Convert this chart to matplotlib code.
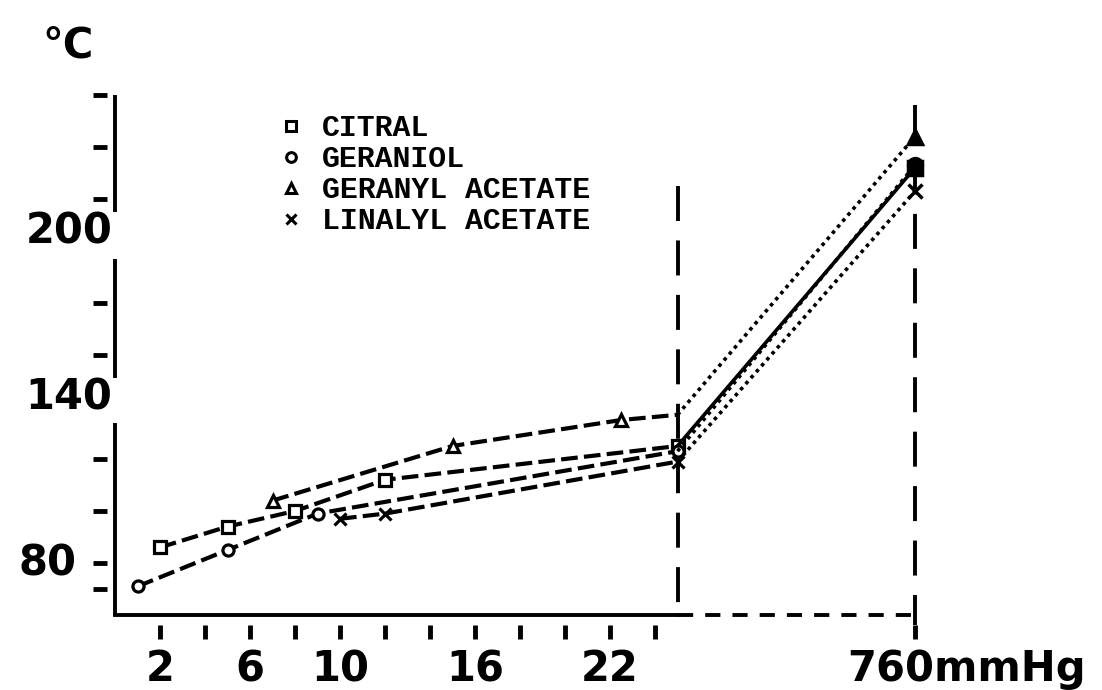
import numpy as np
import matplotlib.pyplot as plt
import matplotlib.transforms as mtransforms
from matplotlib.lines import Line2D

# Données (pression en mmHg, température d'ébullition en °C)
p_citral = [2, 5, 8, 12, 25, 760]
t_citral = [86, 94, 100, 112, 125, 232]
p_geraniol = [1, 5, 9, 25, 760]
t_geraniol = [71, 85, 99, 123, 233]
p_geranyl = [7, 15, 22.5, 25, 760]
t_geranyl = [104, 125, 135, 137, 244]
p_linalyl = [10, 12, 25, 760]
t_linalyl = [97, 99, 119, 223]

noms = ['CITRAL', 'GERANIOL', 'GERANYL ACETATE', 'LINALYL ACETATE']
marqueurs = ['s', 'o', '^', 'x']

graduations_x = np.arange(2, 25, 2)
etiquettes_x = [2, 6, 10, 16, 22]
graduations_y = [70, 80, 100, 120, 160, 180, 220, 240, 260]
etiquettes_y = [80, 140, 200]

# Axe des x coupé : échelle linéaire jusqu'à 25 mmHg, puis compressée jusqu'à 760
rupture = 25
k = (35.556 - rupture) / (760 - rupture)

def avant(x):
    x = np.asarray(x, dtype=float)
    return np.where(x <= rupture, x, rupture + (x - rupture) * k)

def arriere(y):
    y = np.asarray(y, dtype=float)
    return np.where(y <= rupture, y, rupture + (y - rupture) / k)

fig = plt.figure(figsize=(11.02, 6.9), dpi=100)
ax = fig.add_axes([115 / 1102, 75 / 690, 820 / 1102, 520 / 690])
ax.set_xscale('function', functions=(avant, arriere))
ax.set_xlim(0, float(arriere(820 / 22.5)))
ax.set_ylim(60, 260)

for s in ['top', 'right', 'left']:
    ax.spines[s].set_visible(False)
ax.spines['bottom'].set_bounds(0, rupture)
ax.spines['bottom'].set_linewidth(2.8)

x_axes_y_data = mtransforms.blended_transform_factory(ax.transAxes, ax.transData)
x_data_y_axes = mtransforms.blended_transform_factory(ax.transData, ax.transAxes)

# Axe vertical interrompu aux étiquettes 140 et 200
for bas, haut in [(60, 134), (151, 197), (215, 260)]:
    ax.plot([0, 0], [bas, haut], transform=x_axes_y_data, color='black', lw=2.8,
            clip_on=False, solid_capstyle='butt')

# Graduations détachées des axes
ax.plot(np.full(len(graduations_y), -0.018), graduations_y, ls='none', marker='_',
        ms=10, mew=3.5, color='black', transform=x_axes_y_data, clip_on=False)
ax.plot(list(graduations_x) + [760], np.full(len(graduations_x) + 1, -0.033), ls='none',
        marker='|', ms=10, mew=3.5, color='black', transform=x_data_y_axes, clip_on=False)

ax.tick_params(length=0)
ax.set_yticks([])
ax.set_xticks(etiquettes_x)
ax.set_xticklabels([str(v) for v in etiquettes_x], fontsize=30, fontweight='bold')
ax.tick_params(axis='x', pad=24)
ax.annotate('760mmHg', xy=(760, 0), xycoords=x_data_y_axes, xytext=(37, -24),
            textcoords='offset points', ha='center', va='top', fontsize=30, fontweight='bold')

decalages = {80: (-28, 0), 140: (-2, 6.5), 200: (-2, 14)}
for v in etiquettes_y:
    ax.annotate(str(v), xy=(0, v), xycoords=x_axes_y_data, xytext=decalages[v],
                textcoords='offset points', ha='right', va='center', fontsize=30, fontweight='bold')

fig.text(42 / 1102, 1 - 45 / 690, '°C', fontsize=30, fontweight='bold', va='center')

# Lignes de repère pointillées (tracées du haut vers le bas)
ax.vlines(rupture, 225, 60, color='black', lw=2.8, linestyles=[(0, (9, 5))])
ax.vlines(760, 256, 56, color='black', lw=2.8, linestyles=[(0, (9, 5))], clip_on=False)
ax.hlines(60, rupture, 760, color='black', lw=2.8, linestyles=[(0, (3.9, 3.1))], clip_on=False)

# Courbes : tirets jusqu'à 25 mmHg, pointillés ensuite
series = [
    (p_citral, t_citral, 's', '-', True),
    (p_geraniol, t_geraniol, 'o', (0, (1, 1.2)), True),
    (p_geranyl, t_geranyl, '^', (0, (1, 1.2)), False),
    (p_linalyl, t_linalyl, 'x', (0, (1, 1.2)), True),
]
for p, t, m, style_droite, marque_rupture in series:
    n = len(p) - 1 if marque_rupture else len(p) - 2
    ax.plot(p[:-1], t[:-1], color='black', lw=3, dashes=(4, 1.5), marker=m,
            markevery=list(range(n)), ms=8, mfc='white', mec='black', mew=2.3)
    ax.plot(p[-2:], t[-2:], color='black', lw=2.6, linestyle=style_droite)
    ax.plot(p[-1:], t[-1:], color='black', marker=m, ms=10, mew=2.5, ls='none')

poignees = [Line2D([], [], marker=m, ls='none', ms=7, mfc='white', mec='black', mew=2.2)
            for m in marqueurs]
ax.legend(poignees, noms, loc='upper left', bbox_to_anchor=(276 / 1102, 1 - 114 / 690),
          bbox_transform=fig.transFigure, frameon=False,
          prop={'family': 'Liberation Mono', 'weight': 'bold', 'size': 21.5},
          handlelength=1.0, handletextpad=0.55, labelspacing=0.1,
          borderpad=0, borderaxespad=0)

plt.savefig('out.png', dpi=100)
